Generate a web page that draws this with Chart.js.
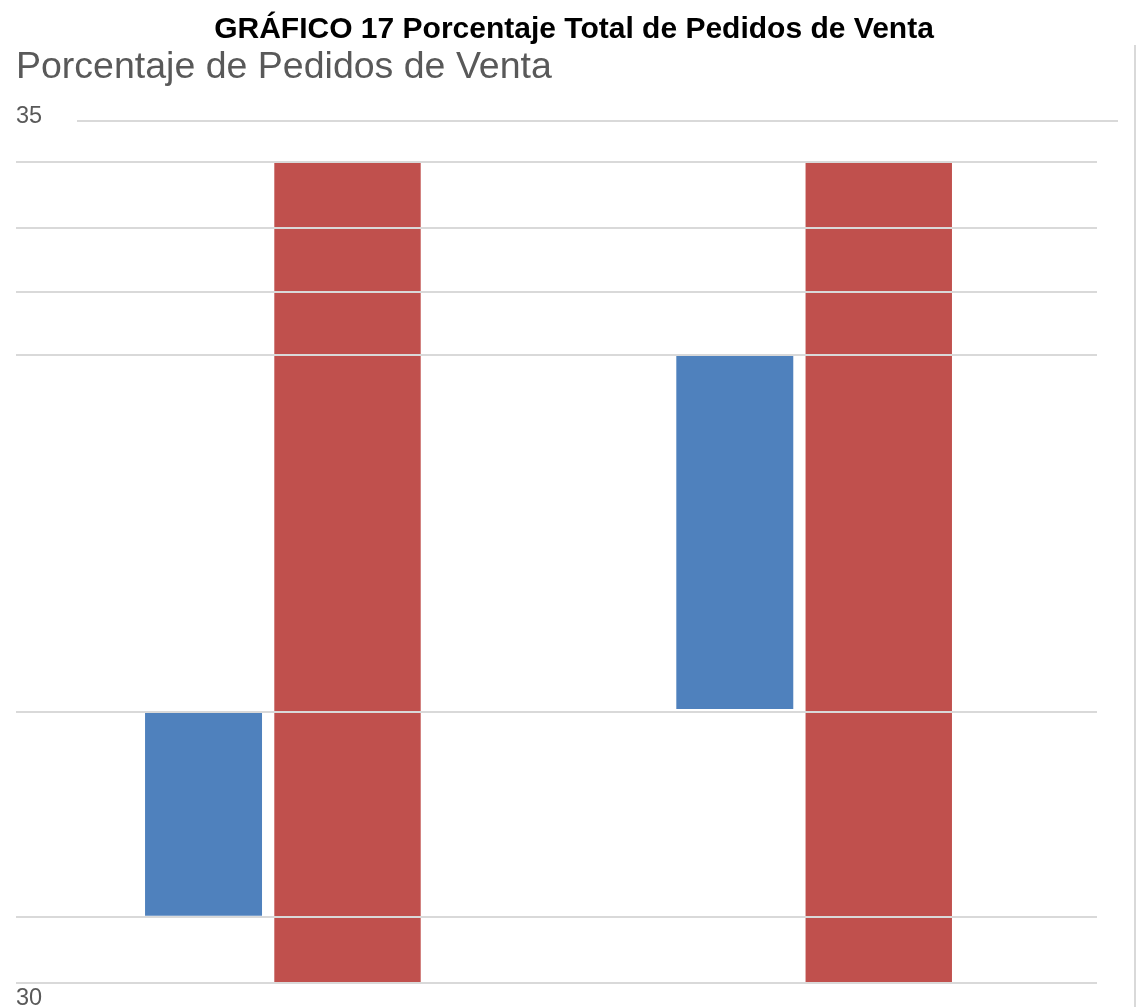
<!DOCTYPE html>
<html lang="es">
<head>
<meta charset="utf-8">
<title>GRÁFICO 17 Porcentaje Total de Pedidos de Venta</title>
<script src="https://cdn.jsdelivr.net/npm/chart.js@4.4.1/dist/chart.umd.min.js"></script>
<style>
  html, body { margin: 0; padding: 0; background: #fff; }
  #wrap { position: relative; width: 1140px; height: 1007px; }
</style>
</head>
<body>
<div id="wrap"><canvas id="chart"></canvas></div>
<script>
const chartTitle    = 'GRÁFICO 17 Porcentaje Total de Pedidos de Venta';
const chartSubtitle = 'Porcentaje de Pedidos de Venta';

// two unlabeled groups, placed at x = 1 and x = 2
const categories = [1, 2];

// floating bars: [start, end]
const blueValues = [[30.39, 31.57], [31.59, 33.64]];
const redValues  = [[30, 34.76], [30, 34.76]];

// y axis
const yMin = 30;
const yMax = 35;
const gridValues = [30, 30.38, 31.57, 33.64, 34.01, 34.38, 34.76, 35];
const yTickLabels = ['35', '30'];

const FONT = '"Liberation Sans", Arial, Helvetica, sans-serif';

const toPoints = vals => vals.map((v, i) => ({ x: categories[i], y: v }));

/* ── extra marks: top 35 line, side rule, axis labels ── */
const decor = {
  id: 'decor',
  afterDraw(chart) {
    const { ctx } = chart;
    const y = chart.scales.y;
    const yTop = y.getPixelForValue(yMax);
    const yBot = y.getPixelForValue(yMin);

    ctx.save();
    ctx.strokeStyle = '#d9d9d9';
    ctx.lineWidth = 2;
    ctx.beginPath();
    ctx.moveTo(77, yTop);
    ctx.lineTo(1118, yTop);
    ctx.stroke();

    ctx.beginPath();
    ctx.moveTo(1135, 45);
    ctx.lineTo(1135, chart.height);
    ctx.stroke();

    ctx.fillStyle = '#595959';
    ctx.font = '23.5px ' + FONT;
    ctx.textBaseline = 'alphabetic';
    ctx.textAlign = 'left';
    ctx.fillText(yTickLabels[0], 16, yTop + 2);
    ctx.fillText(yTickLabels[1], 16, yBot + 22);
    ctx.restore();
  }
};

new Chart(document.getElementById('chart'), {
  type: 'bar',
  data: {
    datasets: [
      {
        label: 'Serie 1',
        data: toPoints(blueValues),
        backgroundColor: '#4f81bd',
        borderWidth: 0,
        barPercentage: 0.8125,
        categoryPercentage: 0.542
      },
      {
        label: 'Serie 2',
        data: toPoints(redValues),
        backgroundColor: '#c0504d',
        borderWidth: 0,
        barPercentage: 1.017,
        categoryPercentage: 0.542
      }
    ]
  },
  options: {
    responsive: true,
    maintainAspectRatio: false,
    animation: false,
    layout: { padding: { left: 16, right: 8, top: 0, bottom: 24 } },
    plugins: {
      legend: { display: false },
      tooltip: { enabled: false },
      title: {
        display: true,
        text: chartTitle,
        color: '#000000',
        font: { family: FONT, size: 30, weight: 'bold' },
        padding: { top: 12, bottom: -3 }
      },
      subtitle: {
        display: true,
        text: chartSubtitle,
        align: 'start',
        color: '#595959',
        font: { family: FONT, size: 37.5, weight: 'normal' },
        padding: { top: 0, bottom: 31 }
      }
    },
    scales: {
      x: {
        type: 'linear',
        display: false,
        min: 0.5115,
        max: 2.5463,
        afterBuildTicks: s => { s.ticks = []; }
      },
      y: {
        min: yMin,
        max: yMax,
        border: { display: false },
        ticks: { display: false },
        grid: {
          z: 1,
          drawTicks: false,
          lineWidth: 2,
          color: c => (c.tick && c.tick.value === yMax) ? 'rgba(0,0,0,0)' : '#d9d9d9'
        },
        afterBuildTicks: s => { s.ticks = gridValues.map(v => ({ value: v })); }
      },
      yR: {
        position: 'right',
        display: true,
        border: { display: false },
        ticks: { display: false },
        grid: { display: false, drawTicks: false },
        afterFit: s => { s.width = 35; }
      }
    }
  },
  plugins: [decor]
});
</script>
</body>
</html>
